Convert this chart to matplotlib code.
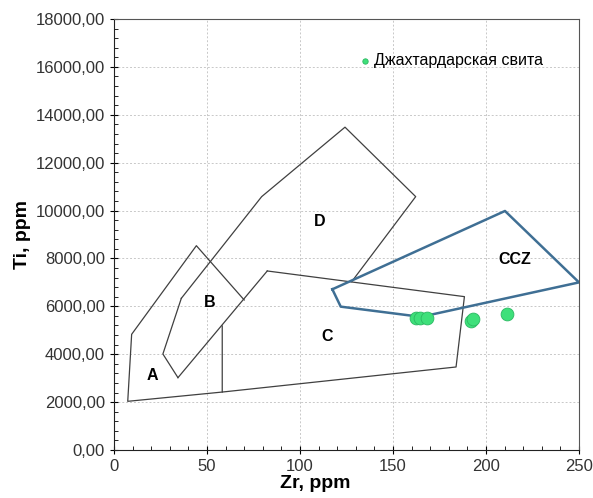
import matplotlib.pyplot as plt
from matplotlib.ticker import MultipleLocator, FuncFormatter

plt.rcParams['font.family'] = ['Liberation Sans', 'DejaVu Sans']

# Field boundaries (Zr, Ti)
a_zr = [58.2, 7.4, 9.5, 44.3, 70.0]
a_ti = [2420, 2033, 4832, 8533, 6266]

bc_edge_zr = [34.4, 82.4]
bc_edge_ti = [3021, 7477]

b_zr = [36.2, 26.3, 34.4]
b_ti = [6334, 4010, 3021]

d_zr = [36.2, 79.4, 124.2, 162.2, 127.8]
d_ti = [6334, 10582, 13483, 10582, 7030]

c_zr = [58.2, 58.2, 183.9, 188.4, 82.4]
c_ti = [5180, 2420, 3467, 6405, 7477]

ccz_zr = [117.4, 210.2, 250.0, 165.0, 121.9, 117.4]
ccz_ti = [6712, 9983, 7000, 5560, 5987, 6712]

# Samples
zr = [162.4, 164.5, 168.3, 192.0, 193.2, 211.1]
ti = [5528, 5528, 5528, 5390, 5472, 5680]

field_labels = ['A', 'B', 'C', 'D', 'CCZ']
label_zr = [20.4, 51.6, 114.5, 110.8, 215.6]
label_ti = [3091, 6140, 4720, 9524, 7940]

fig = plt.figure(figsize=(5.93, 4.98), dpi=100)
ax = fig.add_axes([0.1922, 0.0964, 0.7842, 0.8654])

line_kw = dict(color='#404040', lw=0.9)
ax.plot(a_zr, a_ti, **line_kw)
ax.plot(bc_edge_zr, bc_edge_ti, **line_kw)
ax.plot(b_zr, b_ti, **line_kw)
ax.plot(d_zr, d_ti, **line_kw)
ax.plot(c_zr, c_ti, **line_kw)
ax.plot(ccz_zr, ccz_ti, color='#3f6f94', lw=1.8)

for lab, x, y in zip(field_labels, label_zr, label_ti):
    ax.text(x, y, lab, fontsize=11.5, fontweight='bold', ha='center', va='center')

ax.scatter(zr, ti, s=85, color='#3ee07a', edgecolors='#2bb862', linewidths=0.6,
           zorder=5, label='Джахтардарская свита')

ax.set_xlim(0, 250)
ax.set_ylim(0, 18000)
ax.xaxis.set_major_locator(MultipleLocator(50))
ax.xaxis.set_minor_locator(MultipleLocator(10))
ax.yaxis.set_major_locator(MultipleLocator(2000))
ax.yaxis.set_minor_locator(MultipleLocator(400))
ax.yaxis.set_major_formatter(FuncFormatter(lambda v, p: f'{v:.2f}'.replace('.', ',')))

ax.tick_params(which='major', direction='inout', length=6, labelsize=12, labelcolor='#333333')
ax.tick_params(which='minor', direction='in', length=3)
for side in ['top', 'right']:
    ax.spines[side].set_color('#555555')
for side in ['left', 'bottom']:
    ax.spines[side].set_color('#222222')

ax.grid(True, which='major', linestyle=(0, (2, 2)), color='#c8c8c8', lw=0.7)
ax.set_axisbelow(True)

ax.set_xlabel('Zr, ppm', fontsize=14, fontweight='bold')
ax.set_ylabel('Ti, ppm', fontsize=14, fontweight='bold')
ax.xaxis.set_label_coords(0.432, -0.058)
ax.yaxis.set_label_coords(-0.178, 0.5)

ax.legend(loc='upper left', bbox_to_anchor=(0.492, 0.935), frameon=False,
          markerscale=0.42, handletextpad=-0.45, fontsize=11.5, borderaxespad=0)

plt.savefig('out.png', dpi=100)
